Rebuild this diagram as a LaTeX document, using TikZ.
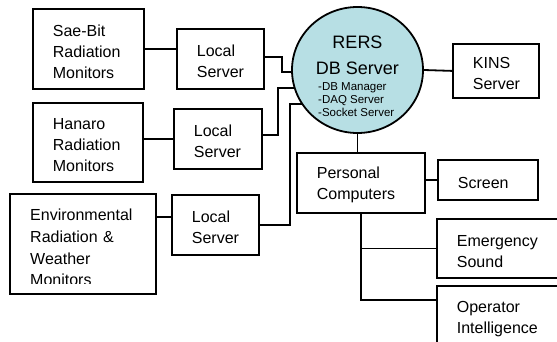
\documentclass[tikz,border=0pt]{standalone}
\usepackage{fontspec}
\setmainfont{Liberation Sans}
\usetikzlibrary{shapes.geometric,backgrounds}
\definecolor{dbfill}{RGB}{183,223,228}
\newcommand{\boxfont}{\fontsize{16pt}{21pt}\selectfont}
\newcommand{\envfont}{\fontsize{16pt}{21.7pt}\selectfont}
\newcommand{\titlefont}{\fontsize{18pt}{26pt}\selectfont}
\newcommand{\listfont}{\fontsize{11.5pt}{13pt}\selectfont}
\begin{document}
\begin{tikzpicture}[x=1pt,y=-1pt,
  box/.style={draw, line width=1.8pt, rectangle, anchor=north west,
    inner xsep=20pt, inner ysep=0pt, align=left, font=\boxfont,
    execute at begin node={\rule{0pt}{16.5pt}}},
  link/.style={line width=1.8pt},
  plain/.style={inner sep=0pt}]
\useasboundingbox (0,0) rectangle (557,342);
\clip (0,0) rectangle (557,342);

% monitors and their local servers
\node[box, text width=71pt, minimum height=80pt] (sae) at (32,8) {Sae-Bit\\Radiation\\Monitors};
\node[box, text width=47pt, minimum height=60pt] (l1) at (176,28) {Local\\Server};
\node[box, text width=70pt, minimum height=79pt] (han) at (32,102) {Hanaro\\Radiation\\Monitors};
\node[box, text width=48pt, minimum height=60pt] (l2) at (173,108) {Local\\Server};
\node[box, text width=106pt, minimum height=100pt] (env) at (9,193) {};
\node[box, text width=47pt, minimum height=60pt] (l3) at (171,194) {Local\\Server};

% the environmental text runs past its frame and is cut off
\begin{scope}
  \clip (env.north west) rectangle (env.east |- 0,283);
  \node[plain, font=\envfont, align=left, anchor=north west, text width=115pt] (envtext) at (30,209)
    {Environmental\\Radiation \&\\Weather\\Monitors};
\end{scope}

% central database server
\node[ellipse, draw, fill=dbfill, line width=1.8pt, minimum width=131pt,
  minimum height=126pt, inner sep=0pt] (db) at (357.5,70) {};
\node[plain, font=\titlefont, align=center] (dbtitle) at (357.5,55) {RERS\\DB Server};
\node[plain, font=\listfont, align=left, anchor=north west] (dblist) at (318,82)
  {-DB Manager\\-DAQ Server\\-Socket Server};

% outputs
\node[box, text width=46pt, minimum height=54pt] (kins) at (452,43) {KINS\\Server};
\node[box, text width=88pt, minimum height=60pt] (pc) at (296,152) {Personal\\Computers};
\node[box, text width=60pt, minimum height=40pt] (scr) at (437,159) {Screen};
\node[box, text width=104pt, minimum height=59pt] (em) at (436,218) {Emergency\\Sound};
\node[box, text width=104pt, minimum height=62pt] (op) at (436,285) {Operator\\Intelligence};

\begin{pgfonlayer}{background}
  \fill[white] (0,0) rectangle (557,342);
  \draw[link] (sae.east |- 0,49) -- (l1.west |- 0,49);
  \draw[link] (han.east |- l2.west) -- (l2.west);
  \draw[link] (env.east |- 0,217) -- (l3.west |- 0,217);
  \draw[link] (l1.east |- 0,57) -- ++(17,0) |- (db.center |- 0,72);
  \draw[link] (l2.east |- 0,135) -- ++(15,0) |- (db.center |- 0,88);
  \draw[link] (l3.east) -- ++(30,0) |- (db.center |- 0,104);
  \draw[link] (db.east) -- (kins.west);
  \draw[link] (db.south) -- (db.south |- pc.north);
  \draw[link] (pc.east |- scr.west) -- (scr.west);
  \draw[link] (pc.south) |- (em.west);
  \draw[link] (pc.south) |- (op.west |- 0,300);
\end{pgfonlayer}
\end{tikzpicture}
\end{document}
